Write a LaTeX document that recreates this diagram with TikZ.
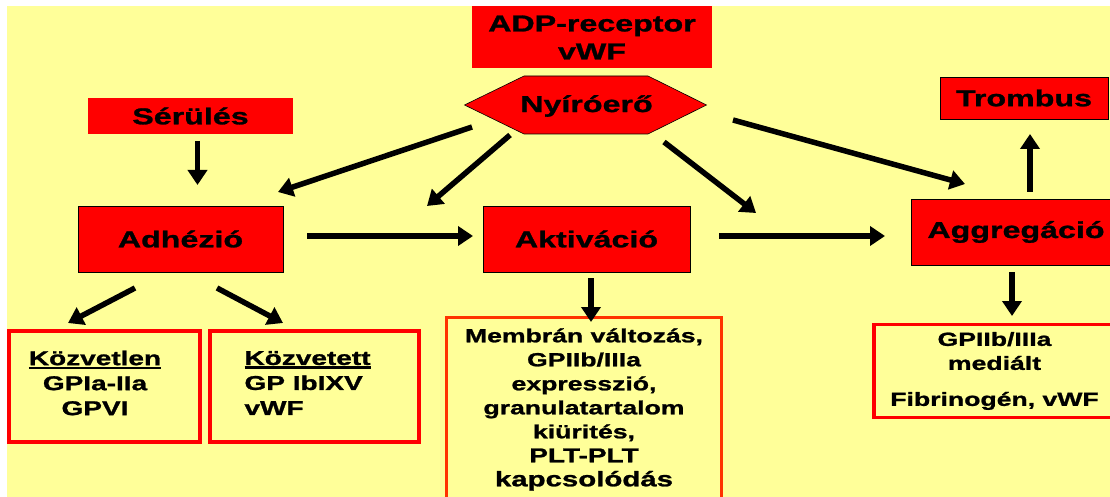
\documentclass[tikz,border=0pt]{standalone}
\usepackage{fontspec}
\setmainfont{Liberation Sans}[FakeStretch=1.4, BoldFeatures={FakeBold=1.2}]
\usepackage{tikz}
\usetikzlibrary{arrows.meta, positioning, calc}
\definecolor{bgyellow}{RGB}{255, 255, 153}
\definecolor{boxred}{RGB}{255, 0, 0}
\definecolor{frameorange}{RGB}{255, 51, 0}
\newcommand{\thickul}[1]{\setbox0\hbox{#1}\rlap{\rule[-4pt]{\wd0}{2.5pt}}\box0}
\tikzset{
    box/.style={draw=black, line width=0.6pt, fill=boxred, inner sep=0pt, outer sep=0pt,
        font=\fontsize{23}{28}\selectfont\bfseries},
    plainbox/.style={box, draw=none},
    frame/.style={draw=boxred, line width=4pt, inner sep=0pt, outer sep=0pt,
        font=\fontsize{20}{25}\selectfont\bfseries},
    arr/.style={-{Triangle[width=19pt, length=15pt]}, line width=5.5pt}
}

\begin{document}
\begin{tikzpicture}[x=1pt, y=-1pt]
    \useasboundingbox (0,0) rectangle (1110,497);
    \fill[white] (0,0) rectangle (1110,497);
    \fill[bgyellow] (7,6) rectangle (1110,497);

    \node[plainbox, minimum width=240pt, minimum height=62pt, align=center] (adp) at (592,37.5) {ADP-receptor\\vWF};
    % hexagon behind the Nyíróerő label
    \coordinate (nyc) at (585.5,105);
    \draw[fill=boxred, line width=0.6pt] ($(nyc)+(-121,0)$) -- ($(nyc)+(-61.5,-29)$) -- ($(nyc)+(62.5,-29)$)
        -- ($(nyc)+(121,0)$) -- ($(nyc)+(62.5,29)$) -- ($(nyc)+(-61.5,29)$) -- cycle;
    \node[plainbox, fill=none] (nyiro) at ($(nyc)+(1,1)$) {Nyíróerő};
    \node[plainbox, minimum width=205pt, minimum height=36pt] (serules) at (190.5,116) {Sérülés};
    \node[box, minimum width=205pt, minimum height=66pt] (adhezio) at (180.5,239) {Adhézió};
    \node[box, minimum width=207pt, minimum height=66pt] (aktivacio) at (586.5,239) {Aktiváció};
    \node[box, minimum width=210pt, minimum height=66pt] (aggregacio) at (1016,232) {Aggregáció};
    \node[box, minimum width=168pt, minimum height=42pt] (trombus) at (1024,98) {Trombus};

    % lower boxes
    \node[frame, minimum width=191pt, minimum height=111pt] (kozvetlen) at (104.5,386.5) {};
    \node[frame, minimum width=209pt, minimum height=111pt] (kozvetett) at (314.5,386.5) {};
    \node[font=\fontsize{20}{25}\selectfont\bfseries, align=center] (kozvetlentxt) at ($(kozvetlen.center)+(-9.5,-3.5)$) {\thickul{Közvetlen}\\GPIa-IIa\\GPVI};
    \node[font=\fontsize{20}{25}\selectfont\bfseries, align=left, anchor=west] (kozvetetttxt) at ($(kozvetett.west)+(31,-3.5)$) {\thickul{Közvetett}\\GP IbIXV\\vWF};
    \node[frame, draw=frameorange, line width=3pt, anchor=north, minimum width=275pt, minimum height=184pt, align=center,
        font=\fontsize{19}{24}\selectfont\bfseries] (membran) at (584,317.5)
        {Membrán változás,\\GPIIb/IIIa\\expresszió,\\granulatartalom\\kiürités,\\{\fontsize{20}{24}\selectfont PLT-PLT}\\{\fontsize{21}{24}\selectfont kapcsolódás}};
    \node[frame, line width=3.5pt, minimum width=241.5pt, minimum height=93pt, align=center,
        font=\fontsize{19}{24}\selectfont\bfseries] (gpbox) at (994.5,371) {GPIIb/IIIa\\mediált\\[12pt]Fibrinogén, vWF};

    \coordinate (aktnw) at ($(aktivacio.north west)+(-56,0)$);
    \coordinate (aktne) at ($(aktivacio.north east)+(66,7)$);

    % arrows
    \draw[arr] ($(serules.south)+(7,7)$) -- ($(adhezio.north)+(17,-21)$);
    \draw[arr] ($(nyc)+(-113.5,22)$) -- ($(adhezio.north)+(97.5,-14)$);
    \draw[arr] ($(nyc)+(-75.5,30)$) -- (aktnw);
    \draw[arr] ($(nyc)+(78.5,37)$) -- (aktne);
    \draw[arr] ($(nyc)+(147.5,15)$) -- ($(aggregacio.north west)+(54,-15)$);
    \draw[arr] ($(adhezio.east)+(24,-3)$) -- ($(aktivacio.west)+(-10,-3)$);
    \draw[arr] ($(aktivacio.east)+(29,-3)$) -- ($(aggregacio.west)+(-26,4)$);
    \draw[arr] ($(aggregacio.north)+(14,-7)$) -- ($(trombus.south)+(6,15)$);
    \draw[arr] ($(adhezio.south)+(-45.5,16)$) -- ($(kozvetlen.north)+(-36.5,-8)$);
    \draw[arr] ($(adhezio.south)+(36.5,16)$) -- ($(kozvetett.north)+(-31.5,-8)$);
    \draw[arr] ($(aktivacio.south)+(4.5,6)$) -- ($(membran.north)+(7,4.5)$);
    \draw[arr] ($(aggregacio.south)+(-4,7)$) -- ($(gpbox.north)+(17.5,-8.5)$);
\end{tikzpicture}
\end{document}
